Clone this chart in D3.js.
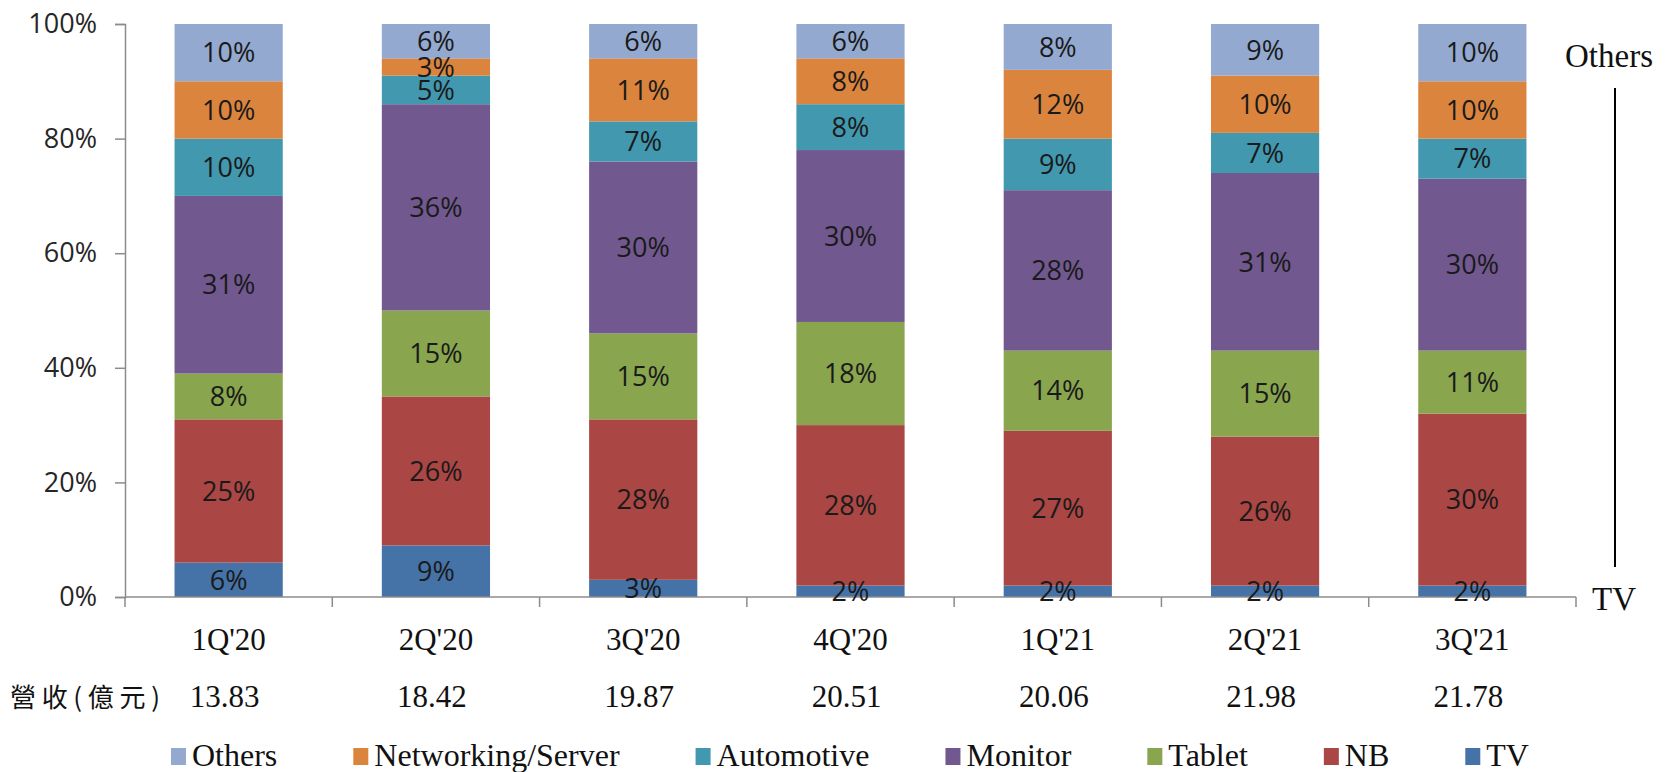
<!DOCTYPE html>
<html>
<head>
    <title>Product Mix</title>
    <script src="https://d3js.org/d3.v7.min.js"></script>
    <style>
        body {
            margin: 0;
            padding: 0;
            background-color: #ffffff;
        }
        .serif { font-family: "Liberation Serif", "Times New Roman", serif; fill: #111; }
        .pct { font-family: "Open Sans", sans-serif; font-size: 27px; }
    </style>
</head>
<body>
<div class="viz">
<script>

    // data
    var quarters = ["1Q'20", "2Q'20", "3Q'20", "4Q'20", "1Q'21", "2Q'21", "3Q'21"];
    var revenue = ["13.83", "18.42", "19.87", "20.51", "20.06", "21.98", "21.78"];
    var seriesNames = ["TV", "NB", "Tablet", "Monitor", "Automotive", "Networking/Server", "Others"];
    var seriesColors = ["#4572A7", "#AA4643", "#89A54E", "#71588F", "#4198AF", "#DB843D", "#93A9CF"];

    var tv         = [6, 9, 3, 2, 2, 2, 2];
    var nb         = [25, 26, 28, 28, 27, 26, 30];
    var tablet     = [8, 15, 15, 18, 14, 15, 11];
    var monitor    = [31, 36, 30, 30, 28, 31, 30];
    var automotive = [10, 5, 7, 8, 9, 7, 7];
    var networking = [10, 3, 11, 8, 12, 10, 10];
    var others     = [10, 6, 6, 6, 8, 9, 10];
    var yTicks = [0, 0.2, 0.4, 0.6, 0.8, 1];

    var seriesValues = [tv, nb, tablet, monitor, automotive, networking, others];

    var width = 1667,
        height = 772;
    var plotLeft = 125, plotRight = 1576, plotTop = 24, plotBottom = 597;

    var svg = d3.select(".viz").append("svg")
        .attr("width", width)
        .attr("height", height);

    var x = d3.scaleBand()
        .domain(quarters)
        .range([plotLeft, plotRight])
        .paddingInner(0.478)
        .paddingOuter(0.239);

    var y = d3.scaleLinear()
        .domain([0, 1])
        .range([plotBottom, plotTop]);

    // build table for stacking
    var table = quarters.map(function(q, i) {
        var row = { q: q };
        seriesNames.forEach(function(s, k) { row[s] = seriesValues[k][i] / 100; });
        return row;
    });
    var stacked = d3.stack().keys(seriesNames)(table);

    // bars
    var layers = svg.selectAll(".layer")
        .data(stacked)
        .enter().append("g")
        .attr("class", "layer")
        .attr("fill", function(d, k) { return seriesColors[k]; });

    layers.selectAll("rect")
        .data(function(d) { return d; })
        .enter().append("rect")
        .attr("x", function(d) { return x(d.data.q); })
        .attr("y", function(d) { return y(d[1]); })
        .attr("width", x.bandwidth())
        .attr("height", function(d) { return y(d[0]) - y(d[1]); });

    // y axis
    var yAxis = svg.append("g")
        .attr("transform", "translate(" + plotLeft + ",0)")
        .call(d3.axisLeft(y).tickValues(yTicks).tickFormat(d3.format(".0%")).tickSize(10).tickPadding(18));
    yAxis.select(".domain").attr("stroke", "#8c8c8c").attr("stroke-width", 1.5);
    yAxis.selectAll(".tick line").attr("stroke", "#8c8c8c").attr("stroke-width", 1.5);
    yAxis.selectAll(".tick text")
        .attr("fill", "#262626")
        .style("font-family", "Open Sans, sans-serif")
        .style("font-size", "27px");

    // x axis line with ticks at category edges
    svg.append("line")
        .attr("x1", plotLeft).attr("x2", plotRight)
        .attr("y1", plotBottom).attr("y2", plotBottom)
        .attr("stroke", "#8c8c8c").attr("stroke-width", 1.5);
    var edges = quarters.map(function(q) { return x(q) - x.step() * x.paddingInner() / 2; });
    edges.push(plotRight);
    svg.selectAll(".xtick")
        .data(edges)
        .enter().append("line")
        .attr("class", "xtick")
        .attr("x1", function(d) { return d; })
        .attr("x2", function(d) { return d; })
        .attr("y1", plotBottom).attr("y2", plotBottom + 10)
        .attr("stroke", "#8c8c8c").attr("stroke-width", 1.5);

    // labels in bars (drawn after axis so the small TV labels sit on top)
    var labelLayers = svg.selectAll(".labels")
        .data(stacked)
        .enter().append("g")
        .attr("class", "labels");

    labelLayers.selectAll("text")
        .data(function(d) { return d; })
        .enter().append("text")
        .attr("class", "pct")
        .attr("x", function(d) { return x(d.data.q) + x.bandwidth() / 2; })
        .attr("y", function(d) { return (y(d[0]) + y(d[1])) / 2; })
        .attr("dy", "0.36em")
        .attr("text-anchor", "middle")
        .attr("fill", "#1a1a1a")
        .text(function(d) { return Math.round((d[1] - d[0]) * 100) + "%"; });

    // category labels
    svg.selectAll(".qlabel")
        .data(quarters)
        .enter().append("text")
        .attr("class", "serif")
        .attr("x", function(d) { return x(d) + x.bandwidth() / 2; })
        .attr("y", 650)
        .attr("text-anchor", "middle")
        .style("font-size", "31px")
        .text(function(d) { return d; });

    // revenue row
    svg.append("text")
        .attr("x", 10)
        .attr("y", 707)
        .attr("textLength", 150)
        .attr("lengthAdjust", "spacing")
        .style("font-family", "Noto Sans CJK TC")
        .style("font-size", "26px")
        .attr("fill", "#111")
        .text("營收(億元)");

    svg.selectAll(".rev")
        .data(revenue)
        .enter().append("text")
        .attr("class", "serif")
        .attr("x", function(d, i) { return x(quarters[i]) + x.bandwidth() / 2 - 4; })
        .attr("y", 707)
        .attr("text-anchor", "middle")
        .style("font-size", "31px")
        .text(function(d) { return d; });

    // right side annotation
    svg.append("text")
        .attr("class", "serif")
        .attr("x", 1565).attr("y", 67)
        .style("font-size", "33px")
        .text("Others");
    svg.append("line")
        .attr("x1", 1615).attr("x2", 1615)
        .attr("y1", 88).attr("y2", 567)
        .attr("stroke", "#000").attr("stroke-width", 2);
    svg.append("text")
        .attr("class", "serif")
        .attr("x", 1592).attr("y", 610)
        .style("font-size", "33px")
        .text("TV");

    // legend (top series first)
    var legendOrder = seriesNames.slice().reverse();
    var lx = 171;
    legendOrder.forEach(function(name) {
        var k = seriesNames.indexOf(name);
        svg.append("rect")
            .attr("x", lx).attr("y", 748)
            .attr("width", 15).attr("height", 17)
            .attr("fill", seriesColors[k]);
        var t = svg.append("text")
            .attr("class", "serif")
            .attr("x", lx + 21).attr("y", 766)
            .style("font-size", "32px")
            .text(name);
        lx = lx + 21 + t.node().getComputedTextLength() + 76;
    });

</script>
</div>
</body>
</html>
